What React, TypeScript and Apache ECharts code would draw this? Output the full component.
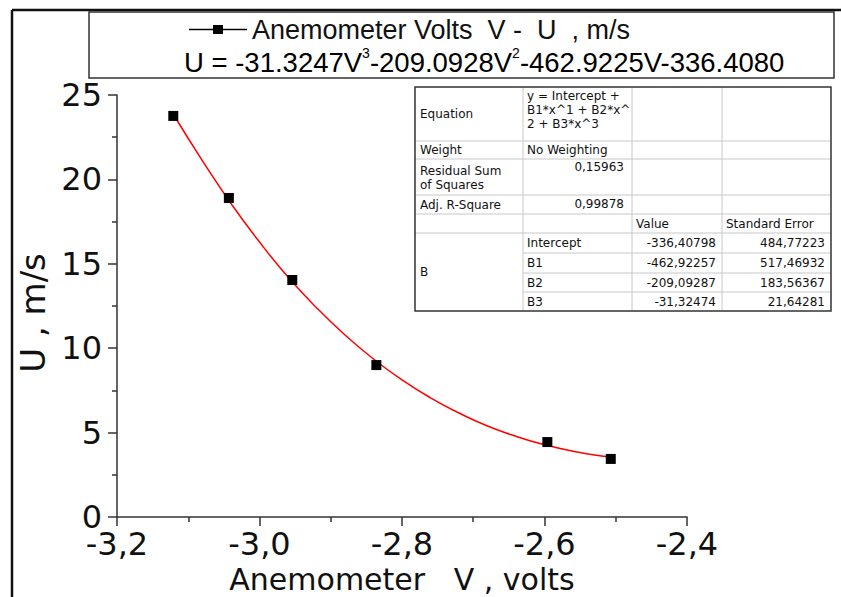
import React, { useEffect, useRef } from "react";
import * as echarts from "echarts";

// Measured points: anemometer voltage (V) vs wind speed (m/s)
const voltage = [-3.121, -3.043, -2.954, -2.836, -2.596, -2.507];
const speed = [23.76, 18.9, 14.04, 9.0, 4.44, 3.44];

// Fitted curve
const fitVoltage = [-3.121, -3.08, -3.04, -3.0, -2.96, -2.92, -2.88, -2.84, -2.8, -2.76, -2.72, -2.68, -2.64, -2.6, -2.56, -2.52, -2.507];
const fitSpeed = [23.86, 21.1, 18.57, 16.29, 14.22, 12.4, 10.78, 9.36, 8.12, 7.06, 6.16, 5.39, 4.78, 4.28, 3.89, 3.61, 3.56];

const xTicks = { min: -3.2, max: -2.4, interval: 0.2 };
const yTicks = { min: 0, max: 25, interval: 5 };

const seriesName = "Anemometer Volts  V -  U  , m/s";
const equationParts = ["U = -31.3247V", "3", "-209.0928V", "2", "-462.9225V-336.4080"];

// Fit report table
const tableRows = [
  ["Equation", "y = Intercept +\nB1*x^1 + B2*x^\n2 + B3*x^3", "", ""],
  ["Weight", "No Weighting", "", ""],
  ["Residual Sum\nof Squares", "0,15963", "", ""],
  ["Adj. R-Square", "0,99878", "", ""],
  ["", "", "Value", "Standard Error"],
];
const paramNames = ["Intercept", "B1", "B2", "B3"];
const paramValues = ["-336,40798", "-462,92257", "-209,09287", "-31,32474"];
const paramErrors = ["484,77223", "517,46932", "183,56367", "21,64281"];

const FONT = "'Liberation Sans', Arial, sans-serif";
const WIDE = "'DejaVu Sans', 'Liberation Sans', Arial, sans-serif";

function buildTable(): any[] {
  const x0 = 415, x1 = 523, x2 = 632, x3 = 722, x4 = 831;
  const rowY = [87, 141, 159, 195, 214, 233, 253, 273, 292, 311];
  const els: any[] = [];
  const grey = { stroke: "#c8c8c8", lineWidth: 1 };
  els.push({ type: "rect", shape: { x: x0, y: rowY[0], width: x4 - x0, height: rowY[9] - rowY[0] }, style: { fill: "#fff", stroke: "none" } });
  for (let i = 1; i <= 5; i++) {
    els.push({ type: "line", shape: { x1: x0, y1: rowY[i], x2: x4, y2: rowY[i] }, style: grey });
  }
  for (let i = 6; i <= 8; i++) {
    els.push({ type: "line", shape: { x1: x1, y1: rowY[i], x2: x4, y2: rowY[i] }, style: grey });
  }
  [x1, x2, x3].forEach((x) => {
    els.push({ type: "line", shape: { x1: x, y1: rowY[0], x2: x, y2: rowY[9] }, style: grey });
  });
  els.push({ type: "rect", shape: { x: x0, y: rowY[0], width: x4 - x0, height: rowY[9] - rowY[0] }, style: { fill: "none", stroke: "#333", lineWidth: 1.5 } });

  const txt = (x: number, y: number, s: string, align = "left", vAlign = "middle") => ({
    type: "text",
    x,
    y,
    style: { text: s, fill: "#111", font: `12px ${WIDE}`, align, verticalAlign: vAlign, lineHeight: 14 },
  });
  els.push(txt(x0 + 5, (rowY[0] + rowY[1]) / 2, tableRows[0][0]));
  els.push(txt(x1 + 4, rowY[0] + 2, tableRows[0][1], "left", "top"));
  els.push(txt(x0 + 5, (rowY[1] + rowY[2]) / 2, tableRows[1][0]));
  els.push(txt(x1 + 4, (rowY[1] + rowY[2]) / 2, tableRows[1][1]));
  els.push(txt(x0 + 5, (rowY[2] + rowY[3]) / 2 + 1, tableRows[2][0]));
  els.push(txt(x2 - 8, rowY[2] + 1, tableRows[2][1], "right", "top"));
  els.push(txt(x0 + 5, (rowY[3] + rowY[4]) / 2, tableRows[3][0]));
  els.push(txt(x2 - 8, rowY[3] + 2, tableRows[3][1], "right", "top"));
  els.push(txt(x2 + 4, (rowY[4] + rowY[5]) / 2, tableRows[4][2]));
  els.push(txt(x3 + 4, (rowY[4] + rowY[5]) / 2, tableRows[4][3]));
  els.push(txt(x0 + 5, (rowY[5] + rowY[9]) / 2, "B"));
  paramNames.forEach((n, i) => {
    const cy = (rowY[5 + i] + rowY[6 + i]) / 2;
    els.push(txt(x1 + 4, cy, n));
    els.push(txt(x3 - 6, cy, paramValues[i], "right"));
    els.push(txt(x4 - 6, cy, paramErrors[i], "right"));
  });
  return els;
}

export default function App() {
  const ref = useRef<HTMLDivElement>(null);
  useEffect(() => {
    document.body.style.margin = "0";
    const chart = echarts.init(ref.current!, undefined, { renderer: "svg" });
    const fmtX = (v: number) => v.toFixed(1).replace(".", ",");
    chart.setOption({
      animation: false,
      backgroundColor: "#fff",
      grid: { left: 117, top: 95, width: 570, height: 422, containLabel: false, outerBoundsMode: "none" },
      legend: {
        left: 184,
        top: 11,
        data: [
          {
            name: seriesName,
            icon: "path://M0,4.2h24v1.6H0z M24,0.5h10v9H24z M34,4.2h24v1.6H34z",
          },
        ],
        itemWidth: 58,
        itemHeight: 10,
        textStyle: { fontFamily: FONT, fontSize: 27, color: "#111" },
      },
      xAxis: {
        type: "value",
        min: xTicks.min,
        max: xTicks.max,
        interval: xTicks.interval,
        name: "Anemometer   V , volts",
        nameLocation: "middle",
        nameGap: 46,
        nameTextStyle: { fontFamily: WIDE, fontSize: 30, color: "#111" },
        axisLine: { lineStyle: { color: "#333", width: 1.5 } },
        axisTick: { inside: false, length: 9, lineStyle: { color: "#333", width: 1.5 } },
        minorTick: { show: true, splitNumber: 2, length: 5, lineStyle: { color: "#333", width: 1.5 } },
        splitLine: { show: false },
        axisLabel: { formatter: fmtX, fontFamily: WIDE, fontSize: 32, lineHeight: 28, color: "#111", margin: 13 },
      },
      yAxis: {
        type: "value",
        min: yTicks.min,
        max: yTicks.max,
        interval: yTicks.interval,
        name: "U , m/s",
        nameLocation: "middle",
        nameGap: 60,
        nameTextStyle: { fontFamily: WIDE, fontSize: 34, color: "#111", padding: [0, 14, 0, 0] },
        axisLine: { show: true, lineStyle: { color: "#333", width: 1.5 } },
        axisTick: { show: true, inside: false, length: 9, lineStyle: { color: "#333", width: 1.5 } },
        minorTick: { show: true, splitNumber: 2, length: 5, lineStyle: { color: "#333", width: 1.5 } },
        splitLine: { show: false },
        axisLabel: { fontFamily: WIDE, fontSize: 32, lineHeight: 24, color: "#111", margin: 15 },
      },
      graphic: [
        { type: "line", shape: { x1: 12, y1: 10, x2: 841, y2: 10 }, style: { stroke: "#111", lineWidth: 2.5 } },
        { type: "line", shape: { x1: 12, y1: 10, x2: 12, y2: 597 }, style: { stroke: "#111", lineWidth: 2.5 } },
        { type: "rect", shape: { x: 89, y: 12, width: 745, height: 66 }, style: { fill: "none", stroke: "#333", lineWidth: 1.5 } },
        {
          type: "text",
          x: 184,
          y: 61,
          style: {
            text: `{n|${equationParts[0]}}{s|${equationParts[1]}}{n|${equationParts[2]}}{s|${equationParts[3]}}{n|${equationParts[4]}}`,
            verticalAlign: "middle",
            rich: {
              n: { fontFamily: FONT, fontSize: 27.5, color: "#111", lineHeight: 30, verticalAlign: "bottom" },
              s: { fontFamily: FONT, fontSize: 14, color: "#111", lineHeight: 30, verticalAlign: "top" },
            },
          },
        },
        ...buildTable(),
      ],
      series: [
        {
          name: "fit",
          type: "line",
          data: fitVoltage.map((v, i) => [v, fitSpeed[i]]),
          showSymbol: false,
          smooth: true,
          lineStyle: { color: "#ff0000", width: 1.5 },
          z: 2,
        },
        {
          name: seriesName,
          type: "scatter",
          data: voltage.map((v, i) => [v, speed[i]]),
          symbol: "rect",
          symbolSize: 10,
          itemStyle: { color: "#000", opacity: 1 },
          z: 3,
        },
      ],
    });
    return () => chart.dispose();
  }, []);
  return <div ref={ref} style={{ position: "fixed", left: 0, top: 0, width: 841, height: 597 }} />;
}
